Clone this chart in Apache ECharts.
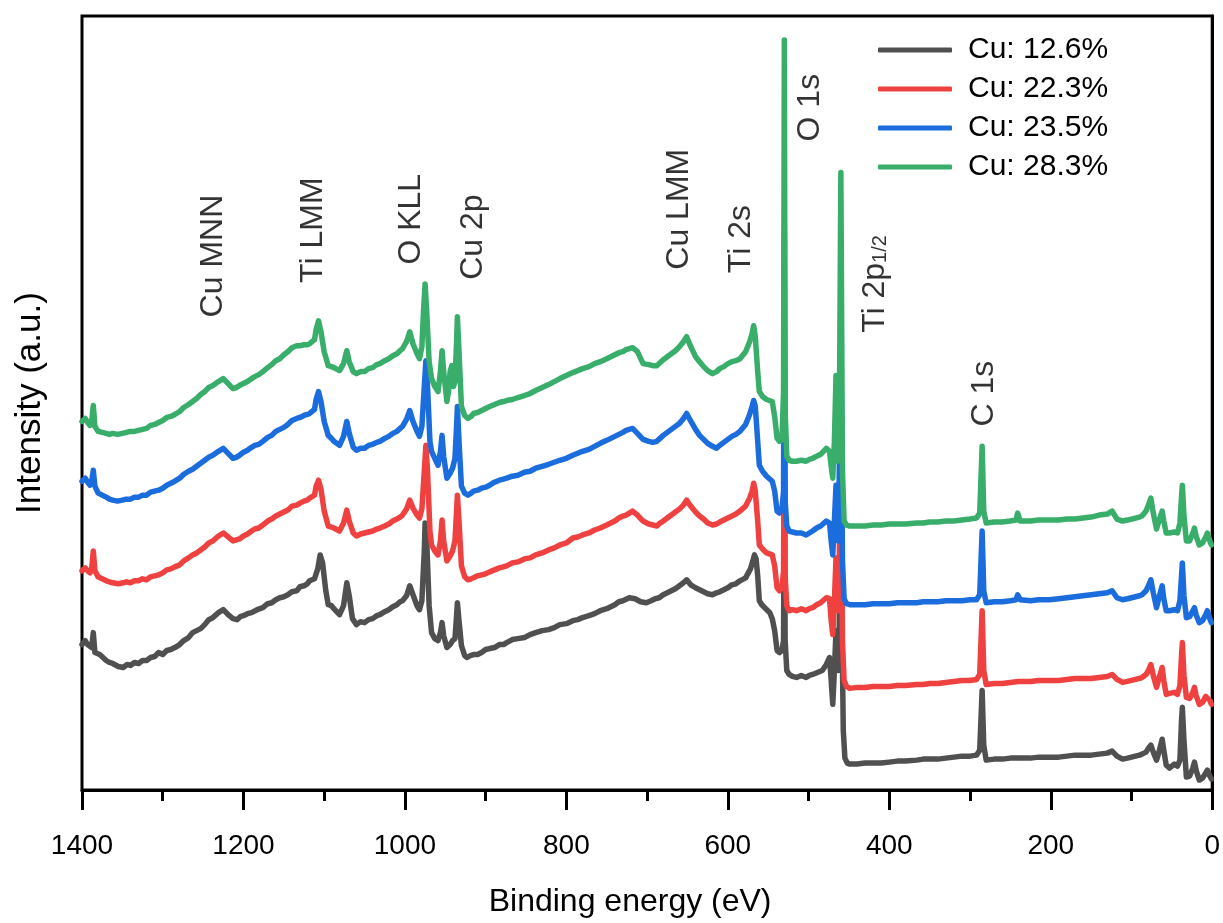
<!DOCTYPE html>
<html>
<head>
<meta charset="utf-8">
<script src="https://cdn.jsdelivr.net/npm/echarts@6/dist/echarts.min.js"></script>
<style>
  html, body { margin: 0; padding: 0; background: #fff; }
  #chart { width: 1223px; height: 923px; }
</style>
</head>
<body>
<div id="chart"></div>
<script>
// XPS survey spectra, [binding energy (eV), intensity (a.u., stacked offsets)]
const seriesNames = ['Cu: 12.6%', 'Cu: 22.3%', 'Cu: 23.5%', 'Cu: 28.3%'];
const seriesColors = ['#505050', '#EE4140', '#1B6CDC', '#38AE6A'];

const cu126 = [
  [1400,146],[1396,150],[1393,146],[1388,143],[1386,158],[1384,138],[1378,136],[1374,133],[1370,130],[1366,128],[1362,127],[1355,124],[1349,123],
  [1344,126],[1340,125],[1335,128],[1330,127],[1325,130],[1320,130],[1315,133],[1310,134],[1305,138],[1300,136],[1295,140],[1290,141],[1285,143],[1279,146],[1274,150],[1268,153],[1263,158],[1258,160],[1253,162],[1248,166],
  [1243,171],[1238,173],[1231,178],[1225,181],[1219,176],[1213,172],[1208,171],[1204,174],[1200,175],[1195,177],[1190,178],[1183,181],[1176,183],[1170,187],[1165,188],
  [1160,191],[1155,193],[1150,194],[1145,196],[1140,199],[1134,200],[1130,204],[1125,205],[1121,207],[1118,210],[1112,212],[1108,222],[1105,236],[1102,228],[1098,200],
  [1095,186],[1091,185],[1088,182],[1081,176],[1076,185],[1072,208],[1069,195],[1065,172],[1060,166],[1055,169],[1050,168],[1045,171],[1040,172],[1035,175],
  [1031,176],[1025,179],[1020,181],[1015,184],[1010,186],[1006,189],[1003,190],[998,195],[994,205],[990,196],[985,185],[982,181],[979,190],
  [976,240],[975,268],[973,250],[970,185],[967,158],[963,152],[959,150],[956,158],[954,168],[952,155],
  [948,143],[944,146],[941,150],[938,152],[936,175],[935,188],[933,170],[930,145],[926,135],[923,133],
  [919,135],[915,136],[910,136],[905,138],[900,141],[895,142],[889,143],[883,146],[878,146],[874,148],[867,151],[860,152],[852,153],[845,156],[838,158],[830,160],[822,161],[815,163],[808,166],[800,167],
  [792,170],[786,171],[780,173],[772,175],[765,177],[758,180],[750,182],[745,184],[740,186],[735,189],[730,190],[722,193],[715,192],[708,189],[701,188],
  [695,190],[690,192],[685,193],[680,196],[675,198],[670,200],[665,202],[660,205],[655,208],[651,211],[646,206],[640,203],[635,201],[630,199],[625,197],[619,196],
  [614,198],[610,199],[605,201],[600,203],[595,206],[590,207],[585,210],[578,213],[572,222],[569,230],[567,236],[565,232],[563,215],
  [561,190],[558,186],[553,182],[548,178],[545,172],[542,160],[539,140],[536,138],[533,140],[531,150],
  [530,330],[529,150],[527,120],[524,116],[520,114],[515,113],[509,115],[503,113],[499,115],[495,116],[489,118],[483,120],[478,126],[474,133],
  [472,110],[470,86],[468,120],[466,160],[463,120],[460,250],[457,60],[455,32],[452,27],[449,26],
  [440,26],[430,27],[420,27],[410,27],[400,28],[390,29],[380,29],[366,30],[358,31],[350,31],[340,31],[330,32],[320,33],[310,34],[300,34],[292,35],[288,40],
  [285,100],[283,45],[280,30],[270,31],[260,31],[250,32],[240,32],[225,32],[215,33],[202,33],[190,33],[180,34],[170,35],[160,35],[150,35],
  [140,36],[130,37],[124,39],[118,34],[111,31],[105,32],[100,33],[95,34],[90,35],[87,36],[82,38],[79,42],
  [76,45],[73,38],[69,30],[66,38],[62,51],[60,40],[57,25],[53,22],[47,26],[43,24],
  [40,30],[38,70],[37,83],[35,50],[32,13],[28,14],[24,22],[22,28],[20,20],[16,10],
  [12,12],[8,17],[6,20],[3,14],[1,11]
];

const cu223 = [
  [1400,220],[1396,223],[1393,220],[1390,218],[1388,222],[1386,240],[1384,220],[1380,214],[1375,212],[1370,210],[1366,209],[1362,208],[1355,207],[1349,208],
  [1345,209],[1340,208],[1335,210],[1330,210],[1325,212],[1320,211],[1315,214],[1310,215],[1305,216],[1300,218],[1295,221],[1290,222],[1285,224],[1279,226],[1274,230],[1268,233],[1263,236],[1258,238],[1253,241],[1248,244],
  [1243,248],[1238,250],[1231,255],[1225,258],[1219,254],[1213,250],[1209,251],[1205,252],[1200,255],[1195,257],[1190,260],[1186,262],[1181,263],[1176,266],[1170,270],[1165,272],
  [1160,275],[1155,277],[1150,279],[1145,281],[1140,285],[1134,286],[1130,288],[1125,290],[1121,291],[1118,293],[1112,296],[1110,305],[1107,311],[1104,302],[1100,280],
  [1095,265],[1091,264],[1088,263],[1081,260],[1076,268],[1072,281],[1069,270],[1064,258],[1060,255],[1055,257],[1050,258],[1045,259],[1040,260],[1035,262],
  [1031,263],[1025,265],[1020,267],[1015,270],[1010,272],[1006,274],[1003,276],[998,282],[994,291],[990,283],[985,276],[982,273],[979,282],
  [976,320],[974,346],[972,320],[969,260],[967,246],[963,240],[959,236],[956,250],[954,271],[952,250],
  [948,230],[944,235],[941,240],[938,250],[936,280],[935,296],[933,270],[930,225],[926,214],[922,211],
  [918,212],[915,213],[910,215],[905,216],[900,217],[895,219],[889,221],[883,223],[878,224],[874,225],[867,228],[860,229],[852,232],[845,233],[838,236],[830,238],[822,241],[815,243],[808,246],[800,248],
  [792,253],[786,254],[780,256],[772,258],[765,261],[758,263],[750,266],[745,268],[740,270],[735,273],[730,275],[726,276],[722,278],[718,280],[712,276],[705,270],
  [698,267],[693,266],[688,265],[684,268],[680,270],[675,273],[670,276],[665,279],[660,282],[655,286],[651,291],[647,286],[640,279],[635,275],[630,272],
  [625,268],[619,266],[614,267],[610,269],[605,271],[600,273],[595,275],[590,277],[585,280],[578,285],[573,293],[570,300],[568,308],[566,300],
  [563,270],[561,246],[557,242],[552,238],[545,236],[542,225],[539,203],[536,200],[533,203],[531,220],
  [530,400],[529,215],[527,185],[524,180],[520,181],[515,180],[509,182],[503,180],[499,182],[495,183],[490,186],[485,188],[478,193],[474,192],
  [472,170],[470,156],[468,190],[466,233],[463,180],[460,330],[458,150],[456,110],[453,104],[449,102],
  [440,103],[430,103],[420,104],[410,104],[400,104],[390,105],[380,105],[366,106],[358,106],[350,107],[340,107],[330,108],[320,109],[310,110],[300,110],[292,111],[288,116],
  [285,180],[283,120],[280,106],[270,107],[260,107],[250,108],[240,109],[225,109],[215,110],[202,110],[190,110],[180,111],[170,112],[160,112],[150,112],
  [140,113],[130,114],[124,116],[118,111],[111,108],[105,109],[100,110],[95,111],[90,112],[87,113],[82,116],[79,120],
  [76,126],[73,115],[69,103],[66,112],[62,123],[60,110],[57,96],[53,97],[47,98],[43,96],
  [40,105],[38,135],[37,148],[35,115],[32,93],[28,92],[24,98],[22,103],[20,95],[16,86],
  [12,88],[8,94],[6,96],[3,90],[1,86]
];

const cu235 = [
  [1400,310],[1396,313],[1393,309],[1390,306],[1388,310],[1386,321],[1384,305],[1380,298],[1375,296],[1370,294],[1366,292],[1362,291],[1356,290],[1350,291],
  [1345,292],[1340,292],[1335,294],[1330,294],[1325,296],[1320,296],[1315,299],[1310,300],[1305,301],[1300,303],[1295,306],[1290,308],[1285,310],[1279,313],[1274,317],[1268,320],[1263,322],[1258,325],[1253,328],[1248,331],
  [1243,334],[1238,336],[1231,340],[1225,343],[1219,338],[1213,333],[1209,334],[1205,336],[1200,339],[1195,341],[1190,344],[1186,346],[1181,347],[1176,350],[1170,354],[1165,356],
  [1160,360],[1155,362],[1150,364],[1145,367],[1140,371],[1134,373],[1130,374],[1125,376],[1121,377],[1118,378],[1112,382],[1110,392],[1107,400],[1104,390],[1100,370],
  [1095,356],[1091,353],[1088,350],[1081,346],[1076,355],[1072,370],[1069,358],[1064,344],[1060,341],[1055,343],[1050,343],[1045,346],[1040,347],[1035,349],
  [1031,350],[1025,353],[1020,355],[1015,358],[1010,360],[1006,363],[1003,365],[998,372],[994,381],[990,370],[985,360],[982,355],[979,365],
  [976,405],[974,431],[972,405],[969,350],[967,340],[963,333],[959,326],[956,340],[954,356],[952,335],
  [948,313],[944,318],[941,323],[938,333],[936,365],[935,385],[933,350],[930,305],[926,298],[922,296],
  [918,298],[915,300],[910,301],[905,303],[900,304],[895,306],[889,309],[883,311],[878,312],[874,313],[867,315],[860,316],[852,319],[845,320],[838,323],[830,325],[822,327],[815,329],[808,331],[800,333],
  [792,336],[786,338],[780,340],[772,342],[765,345],[758,348],[750,351],[745,353],[740,355],[735,357],[730,359],[726,361],[722,362],[718,363],[712,358],[705,352],
  [698,350],[693,349],[688,350],[684,353],[680,356],[675,359],[670,362],[665,365],[660,368],[655,373],[651,378],[647,372],[640,362],[635,356],[630,352],
  [625,348],[619,345],[614,343],[610,346],[605,349],[600,352],[595,355],[590,357],[585,360],[578,367],[573,377],[570,385],[568,391],[566,385],
  [563,350],[561,326],[557,320],[552,315],[545,310],[542,300],[539,280],[536,278],[533,282],[531,300],
  [530,560],[529,290],[527,265],[524,260],[520,259],[515,258],[509,258],[503,256],[499,258],[495,260],[490,263],[485,265],[478,270],[474,268],
  [472,250],[470,236],[468,270],[466,306],[463,250],[460,450],[458,230],[456,192],[453,187],[449,186],
  [440,186],[430,186],[420,187],[410,187],[400,187],[390,188],[380,188],[366,188],[358,189],[350,189],[340,189],[330,190],[320,190],[310,190],[300,191],[292,191],[288,196],
  [285,260],[283,200],[280,188],[270,189],[260,189],[250,190],[243,191],[241,196],[238,191],[225,190],[215,191],[202,191],[190,192],
  [180,193],[170,194],[160,195],[150,196],[140,197],[130,198],[124,200],[118,193],[111,191],[105,192],[100,193],[95,194],[90,195],[87,196],
  [82,200],[79,205],[76,211],[73,198],[69,183],[66,193],[62,205],[60,192],[57,180],[53,180],
  [47,181],[43,180],[40,190],[38,215],[37,228],[35,195],[32,173],[28,174],[24,180],[22,183],
  [20,176],[16,168],[12,170],[8,176],[6,180],[3,172],[1,168]
];

const cu283 = [
  [1400,370],[1396,373],[1393,369],[1390,366],[1388,370],[1386,386],[1384,365],[1380,360],[1375,359],[1370,358],[1366,357],[1362,358],[1356,357],[1350,358],
  [1345,359],[1340,360],[1335,360],[1330,361],[1325,362],[1320,363],[1315,366],[1310,367],[1305,369],[1300,371],[1295,374],[1290,375],[1285,377],[1279,380],[1274,384],[1268,387],[1263,390],[1258,393],[1253,397],[1248,400],
  [1243,404],[1238,406],[1231,410],[1225,413],[1219,408],[1213,403],[1209,404],[1205,406],[1200,408],[1195,410],[1190,413],[1186,415],[1181,417],[1176,420],[1170,424],[1165,427],
  [1160,431],[1155,433],[1150,437],[1145,440],[1140,444],[1134,446],[1130,446],[1125,447],[1121,447],[1118,448],[1112,452],[1110,462],[1107,471],[1104,460],[1100,440],
  [1095,426],[1091,425],[1088,424],[1081,421],[1076,428],[1072,441],[1069,430],[1064,420],[1060,418],[1055,420],[1050,420],[1045,423],[1040,424],[1035,427],
  [1031,428],[1025,431],[1020,433],[1015,436],[1010,438],[1006,441],[1003,443],[998,450],[994,460],[990,448],[985,438],[982,433],[979,445],
  [977,480],[975,508],[973,480],[970,430],[967,413],[963,405],[959,400],[956,420],[954,441],[952,420],
  [948,390],[946,400],[944,420],[942,426],[940,405],[938,410],[936,450],[935,475],[933,440],[930,385],
  [926,376],[922,373],[918,375],[915,378],[910,379],[905,381],[900,383],[895,385],[889,387],[883,389],[878,390],[874,391],[867,392],[860,394],[852,396],[845,398],[838,401],[830,404],[822,407],
  [815,410],[808,413],[800,416],[792,419],[786,421],[780,423],[772,425],[765,428],[758,430],[750,433],[745,435],[740,437],[735,439],[730,440],[726,442],[722,443],[718,444],
  [712,440],[705,428],[698,427],[693,426],[688,426],[684,429],[680,432],[675,435],[670,438],[665,441],[660,445],[655,450],[651,455],[647,447],
  [640,435],[635,430],[630,425],[625,421],[619,418],[614,420],[610,423],[605,425],[600,428],[595,430],[590,431],[585,433],[578,440],[573,450],[570,458],
  [568,466],[566,455],[563,420],[561,400],[557,395],[552,392],[545,390],[542,375],[539,353],[536,350],
  [533,352],[531,400],[530,753],[529,380],[527,335],[524,331],[520,330],[515,330],[509,331],[503,330],[499,332],[495,333],[490,335],[485,337],
  [478,343],[474,340],[472,325],[470,313],[468,350],[466,416],[464,330],[462,350],[460,620],[458,320],
  [456,270],[453,266],[449,265],[440,265],[430,265],[420,266],[410,266],[400,267],[390,267],[380,267],[366,268],[358,268],[350,269],[340,269],[330,270],
  [320,270],[310,271],[300,272],[292,273],[288,278],[285,345],[283,280],[280,268],[270,269],[260,269],[250,270],[243,271],[241,278],
  [238,270],[225,270],[215,271],[202,271],[190,271],[180,272],[170,272],[160,273],[150,274],[140,276],[130,277],[124,280],[118,272],[111,270],
  [105,271],[100,272],[95,273],[90,274],[87,275],[82,280],[79,286],[76,293],[73,278],[69,262],[66,270],[62,280],
  [60,270],[57,258],[53,258],[47,259],[43,258],[40,268],[38,295],[37,306],[35,275],[32,250],
  [28,250],[24,258],[22,263],[20,255],[16,246],[12,248],[8,254],[6,258],[3,250],[1,246]
];

// Peak assignments: [label, binding energy, label height]
const peakLabels = [
  ['Cu MNN', 1238, 536],
  ['Ti LMM', 1114, 562],
  ['O KLL', 992, 573],
  ['Cu 2p', 916, 555],
  ['Cu LMM', 660, 583],
  ['Ti 2s', 583, 553],
  ['O 1s', 498, 685],
  ['Ti 2p1/2', 418, 508],
  ['C 1s', 282, 398]
];

const xTicks = [0, 200, 400, 600, 800, 1000, 1200, 1400];

const FONT = '"Liberation Sans", Arial, sans-serif';
const spectra = [cu126, cu223, cu235, cu283];

const chart = echarts.init(document.getElementById('chart'), null, { renderer: 'canvas' });

const lineSeries = spectra.map((d, i) => ({
  name: seriesNames[i],
  type: 'line',
  data: d,
  showSymbol: false,
  symbol: 'none',
  smooth: false,
  z: 2 + i,
  lineStyle: { color: seriesColors[i], width: 5.5, join: 'round', cap: 'round' },
  itemStyle: { color: seriesColors[i] },
  emphasis: { disabled: true },
  animation: false
}));

const labelSeries = {
  type: 'scatter',
  silent: true,
  symbolSize: 0,
  z: 10,
  animation: false,
  data: peakLabels.map(p => ({ name: p[0], value: [p[1], p[2]] })),
  label: {
    show: true,
    position: 'inside',
    rotate: 90,
    color: '#000',
    fontFamily: FONT,
    fontSize: 32,
    formatter: (p) => p.name === 'Ti 2p1/2' ? '{m|Ti 2p}{s|1/2}' : p.name,
    rich: {
      m: { fontSize: 32, fontFamily: FONT, color: '#000', lineHeight: 32 },
      s: { fontSize: 20, fontFamily: FONT, color: '#000', lineHeight: 15, verticalAlign: 'bottom' }
    }
  }
};

chart.setOption({
  backgroundColor: '#fff',
  animation: false,
  grid: {
    left: 82, right: 10, top: 16, bottom: 130,
    show: true, borderColor: '#000', borderWidth: 3, backgroundColor: 'transparent'
  },
  legend: {
    data: seriesNames,
    orient: 'vertical',
    left: 873,
    top: 30,
    icon: 'roundRect',
    itemWidth: 74,
    itemHeight: 5,
    itemGap: 9,
    selectedMode: false,
    textStyle: { fontFamily: FONT, fontSize: 30, color: '#000', lineHeight: 30, padding: [0, 0, 0, 11] }
  },
  xAxis: {
    type: 'value',
    inverse: true,
    min: 0,
    max: 1400,
    interval: 200,
    name: 'Binding energy (eV)',
    nameLocation: 'middle',
    nameGap: 96,
    nameTextStyle: { fontFamily: FONT, fontSize: 32, color: '#000', padding: [0, 34, 0, 0] },
    axisLine: { show: true, onZero: false, lineStyle: { color: '#000', width: 3 } },
    axisTick: { show: true, inside: false, length: 20, lineStyle: { color: '#000', width: 3 },
      customValues: xTicks },
    minorTick: { show: true, splitNumber: 2, length: 11, lineStyle: { color: '#000', width: 3 } },
    axisLabel: { show: true, margin: 42, fontFamily: FONT, fontSize: 28, color: '#000',
      customValues: xTicks, formatter: (v) => String(v) },
    splitLine: { show: false },
    minorSplitLine: { show: false }
  },
  yAxis: {
    type: 'value',
    min: 0,
    max: 777,
    name: 'Intensity (a.u.)',
    nameLocation: 'middle',
    nameGap: 34,
    nameTextStyle: { fontFamily: FONT, fontSize: 35, color: '#000' },
    axisLine: { show: true, lineStyle: { color: '#000', width: 3 } },
    axisTick: { show: false },
    axisLabel: { show: false },
    splitLine: { show: false }
  },
  series: [...lineSeries, labelSeries]
});
</script>
</body>
</html>
